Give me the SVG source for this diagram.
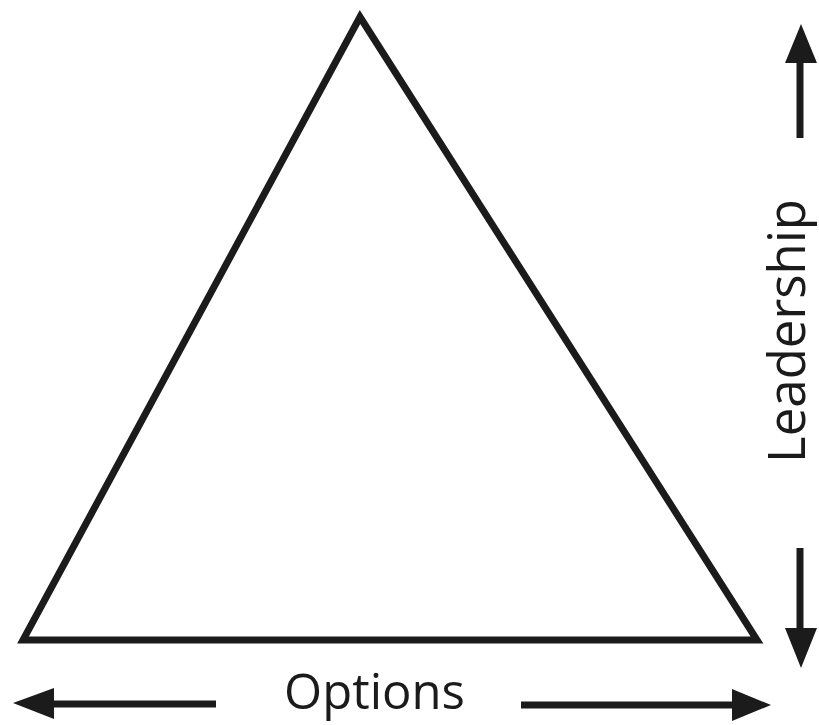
<svg xmlns="http://www.w3.org/2000/svg" width="819" height="725" viewBox="0 0 819 725">
  <style>
    .shape { fill: none; stroke: #1b1b1b; stroke-width: 7; stroke-linejoin: miter; }
    .shaft { stroke: #1b1b1b; stroke-width: 7; fill: none; }
    .head { fill: #1b1b1b; stroke: none; }
    .label { font-family: "Open Sans", "Liberation Sans", sans-serif; fill: #1b1b1b; text-anchor: middle; }
  </style>
  <rect width="819" height="725" fill="#ffffff"/>
  <g id="triangle">
    <polygon class="shape" points="360,17 757,640 23,640"/>
  </g>
  <g id="connectors">
    <line class="shaft" x1="50" y1="704" x2="216" y2="704"/>
    <polygon class="head" points="13,703 54,688 54,719"/>
    <line class="shaft" x1="521" y1="705" x2="735" y2="705"/>
    <polygon class="head" points="771,705 732,689 732,721"/>
    <line class="shaft" x1="800" y1="60" x2="800" y2="138"/>
    <polygon class="head" points="801,24 785,63 817,63"/>
    <line class="shaft" x1="800" y1="548" x2="800" y2="631"/>
    <polygon class="head" points="801,668 785,628 817,628"/>
  </g>
  <g id="label-options">
    <text class="label" x="374.5" y="709" font-size="49">Options</text>
  </g>
  <g id="label-leadership">
    <text class="label" font-size="51" transform="translate(805,331) rotate(-90)">Leadership</text>
  </g>
</svg>
